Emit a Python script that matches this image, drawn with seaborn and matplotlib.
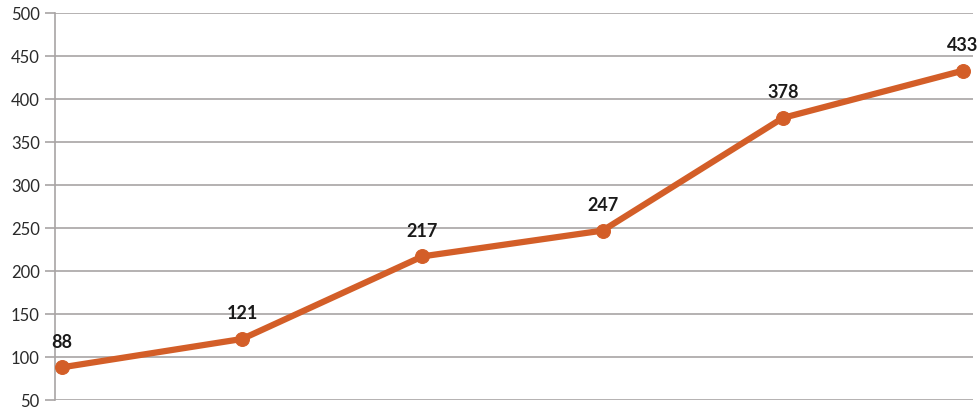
import numpy as np
import matplotlib
matplotlib.use("Agg")
import matplotlib.pyplot as plt
import pandas as pd
import seaborn as sns

categories = ["1", "2", "3", "4", "5", "6"]
values = [88, 121, 217, 247, 378, 433]
y_ticks = [50, 100, 150, 200, 250, 300, 350, 400, 450, 500]

sns.set_style("white")
plt.rcParams["font.family"] = ["Lato", "DejaVu Sans"]

df = pd.DataFrame({"pos": np.arange(len(categories)), "value": values})

fig = plt.figure(figsize=(9.8, 4.11), dpi=100)
ax = fig.add_axes([55 / 980, 1 - 400 / 411, 918 / 980, 387 / 411])

sns.lineplot(data=df, x="pos", y="value", ax=ax, color="#D35E28", linewidth=4.5,
             marker="o", markersize=10, markeredgecolor="#D35E28", zorder=3)

for x, v in zip(df["pos"], df["value"]):
    ax.annotate(str(v), (x, v), xytext=(0, 18), textcoords="offset points",
                ha="center", va="center", fontsize=13, fontweight="bold", color="#1a1a1a")

ax.set_ylim(50, 500)
ax.set_yticks(y_ticks)
ax.set_xlim(-0.039, 5.055)
ax.set_xticks([])
ax.grid(axis="y", color="#a8a4a4", linewidth=1.2)
ax.set_xlabel("")
ax.set_ylabel("")
for s in ["top", "right", "bottom"]:
    ax.spines[s].set_visible(False)
ax.spines["left"].set_color("#a8a4a4")
ax.spines["left"].set_linewidth(1.2)
ax.tick_params(axis="y", left=True, length=7, color="#a8a4a4", width=1.2,
               labelsize=12, labelcolor="#2a2a2a", pad=4)

fig.savefig("out.png", dpi=100)
